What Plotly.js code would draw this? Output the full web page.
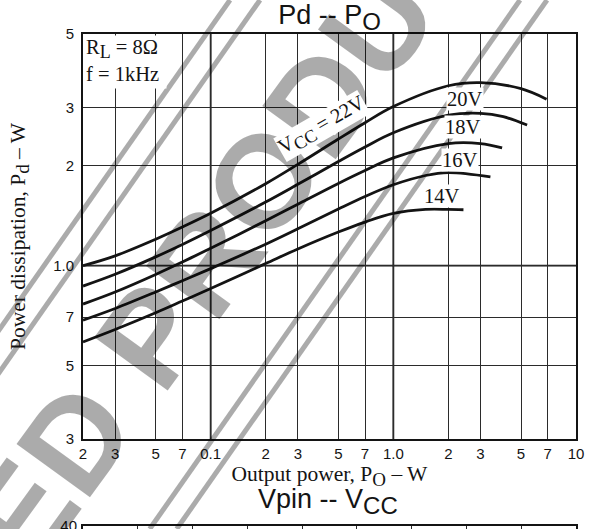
<!DOCTYPE html>
<html>
<head>
<meta charset="utf-8">
<script src="https://cdn.plot.ly/plotly-3.0.1.min.js"></script>
<style>
  html, body { margin: 0; padding: 0; background: #fff; overflow: hidden; }
  #chart { width: 597px; height: 529px; }
</style>
</head>
<body>
<div id="chart"></div>
<script>
// Pd - PO characteristics, RL = 8 ohm, f = 1 kHz
const vcc22Po = [0.02, 0.03, 0.05, 0.07, 0.1, 0.2, 0.3, 0.5, 0.7, 1.0, 2, 3, 5, 6.9];
const vcc22Pd = [1.0, 1.071, 1.202, 1.308, 1.439, 1.767, 2.021, 2.41, 2.70, 3.02, 3.49, 3.567, 3.42, 3.18];

const vcc20Po = [0.02, 0.03, 0.05, 0.07, 0.1, 0.2, 0.3, 0.5, 0.7, 1.0, 2, 3, 4, 5.4];
const vcc20Pd = [0.868, 0.942, 1.063, 1.159, 1.277, 1.556, 1.76, 2.061, 2.28, 2.517, 2.844, 2.882, 2.815, 2.657];

const vcc18Po = [0.02, 0.03, 0.05, 0.07, 0.1, 0.2, 0.3, 0.5, 0.7, 1.0, 2, 3, 3.94];
const vcc18Pd = [0.766, 0.833, 0.941, 1.026, 1.129, 1.366, 1.533, 1.771, 1.937, 2.114, 2.335, 2.335, 2.266];

const vcc16Po = [0.02, 0.03, 0.05, 0.07, 0.1, 0.2, 0.3, 0.5, 0.7, 1.0, 1.5, 2, 3.4];
const vcc16Pd = [0.685, 0.743, 0.833, 0.901, 0.98, 1.161, 1.292, 1.482, 1.617, 1.754, 1.871, 1.909, 1.854];

const vcc14Po = [0.02, 0.03, 0.05, 0.07, 0.1, 0.2, 0.3, 0.5, 0.7, 1.0, 1.5, 2, 2.42];
const vcc14Pd = [0.589, 0.642, 0.721, 0.782, 0.853, 1.015, 1.123, 1.263, 1.354, 1.437, 1.478, 1.478, 1.475];

// axis ticks
const poTickVals = [0.02, 0.03, 0.05, 0.07, 0.1, 0.2, 0.3, 0.5, 0.7, 1, 2, 3, 5, 7, 10];
const poTickText = ['2', '3', '5', '7', '0.1', '2', '3', '5', '7', '1.0', '2', '3', '5', '7', '10'];
const pdTickVals = [0.3, 0.5, 0.7, 1, 2, 3, 5];
const pdTickText = ['3', '5', '7', '1.0', '2', '3', '5'];

// Vpin - VCC panel (only its top edge falls inside the page)
const vpinTickVals = [40];
const vpinTickText = ['40'];

// page geometry helpers (pixels -> paper fractions)
const W = 597, H = 529;
const M = { l: 83, r: 21, t: 34, b: 0 };
const PW = W - M.l - M.r, PH = H - M.t - M.b;
const px = v => (v - M.l) / PW;
const py = v => (H - v) / PH;

const INK = '#141414';
const SANS = 'Liberation Sans, Arial, sans-serif';
const SERIF = 'Liberation Serif, Times New Roman, serif';
const sub = (t, size) => '<sub><span style="font-size:' + size + 'px">' + t + '</span></sub>';

function curve(x, y) {
  return {
    type: 'scatter', mode: 'lines', x: x, y: y,
    line: { color: INK, width: 2.8, shape: 'spline', smoothing: 1 },
    hoverinfo: 'skip', showlegend: false, xaxis: 'x', yaxis: 'y'
  };
}

const traces = [
  curve(vcc22Po, vcc22Pd),
  curve(vcc20Po, vcc20Pd),
  curve(vcc18Po, vcc18Pd),
  curve(vcc16Po, vcc16Pd),
  curve(vcc14Po, vcc14Pd),
  // placeholder so the Vpin - VCC frame is laid out
  { type: 'scatter', mode: 'lines', x: [], y: [], xaxis: 'x2', yaxis: 'y2', hoverinfo: 'skip', showlegend: false }
];

// "discontinued" stamp: diagonal stripes
const WM = 'rgba(0,0,0,0.33)';
const stripeSlope = -0.70;
const stripes = [230, 260, 520, 547].map(x0 => ({
  type: 'line', xref: 'paper', yref: 'paper', layer: 'above',
  x0: px(x0), y0: py(0), x1: px(x0 + stripeSlope * H), y1: py(H),
  line: { color: WM, width: 5 }
}));

// heavier decade lines
const decadeLines = [
  { type: 'line', xref: 'x', yref: 'y domain', x0: 0.1, x1: 0.1, y0: 0, y1: 1, layer: 'below', line: { color: INK, width: 1.8 } },
  { type: 'line', xref: 'x', yref: 'y domain', x0: 1, x1: 1, y0: 0, y1: 1, layer: 'below', line: { color: INK, width: 1.8 } },
  { type: 'line', xref: 'x domain', yref: 'y', x0: 0, x1: 1, y0: 1, y1: 1, layer: 'below', line: { color: INK, width: 1.8 } }
];

function label(text, x, y, angle) {
  return {
    text: text, xref: 'paper', yref: 'paper', x: px(x), y: py(y),
    xanchor: 'center', yanchor: 'middle', showarrow: false,
    textangle: angle || 0, bgcolor: '#fff', borderpad: 0,
    font: { family: SERIF, size: 20.5, color: INK }
  };
}

const annotations = [
  {
    text: 'DISCONTINUED PRODUCT', xref: 'paper', yref: 'paper',
    x: px(11), y: py(528), xanchor: 'center', yanchor: 'middle',
    showarrow: false, textangle: -54,
    font: { family: SANS, size: 132, color: WM, weight: 'bold' }
  },
  {
    text: 'R' + sub('L', 18) + ' = 8Ω<br>f = 1kHz', xref: 'paper', yref: 'paper',
    x: px(85), y: py(35), xanchor: 'left', yanchor: 'top', align: 'left', valign: 'top',
    width: 80, height: 52, showarrow: false, bgcolor: '#fff', borderpad: 0,
    font: { family: SERIF, size: 20.5, color: INK }
  },
  label('V' + sub('CC', 18) + ' = 22V', 322, 126, -30),
  label('20V', 465, 99),
  label('18V', 463, 127),
  label('16V', 460, 160),
  label('14V', 442, 196),
  {
    text: 'Vpin -- V' + sub('CC', 24), xref: 'paper', yref: 'paper',
    x: px(328), y: py(501), xanchor: 'center', yanchor: 'middle', showarrow: false,
    font: { family: SANS, size: 27, color: INK }
  }
];

const gridAxis = {
  showgrid: true, gridcolor: '#2b2b2b', gridwidth: 1,
  showline: true, mirror: true, linecolor: INK, linewidth: 2,
  zeroline: false, ticks: '', automargin: false, fixedrange: true
};

const layout = {
  width: W, height: H,
  margin: M,
  paper_bgcolor: '#fff', plot_bgcolor: '#fff',
  showlegend: false,
  title: {
    text: 'Pd -- P' + sub('O', 24),
    font: { family: SANS, size: 27, color: INK },
    xref: 'paper', x: 0.5, xanchor: 'center',
    yref: 'container', y: 1 - 15 / H, yanchor: 'middle'
  },
  xaxis: Object.assign({}, gridAxis, {
    type: 'log', domain: [0, 1], anchor: 'y',
    range: [Math.log10(0.02), Math.log10(10)],
    tickmode: 'array', tickvals: poTickVals, ticktext: poTickText,
    tickfont: { family: SANS, size: 15, color: INK },
    ticklabelstandoff: 0,
    title: { text: 'Output power, P' + sub('O', 19) + ' – W', font: { family: SERIF, size: 21.5, color: INK }, standoff: 0 }
  }),
  yaxis: Object.assign({}, gridAxis, {
    type: 'log', domain: [py(439), 1], anchor: 'x',
    range: [Math.log10(0.3), Math.log10(5)],
    tickmode: 'array', tickvals: pdTickVals, ticktext: pdTickText,
    tickfont: { family: SANS, size: 15, color: INK },
    ticklabelstandoff: 4,
    title: { text: 'Power dissipation, P' + sub('d', 19) + ' – W', font: { family: SERIF, size: 21.5, color: INK }, standoff: 22 }
  }),
  xaxis2: Object.assign({}, gridAxis, {
    domain: [0, 1], anchor: 'y2', side: 'top', mirror: false,
    range: [0, 9], dtick: 1, tickmode: 'linear', tick0: 0, showticklabels: false
  }),
  yaxis2: Object.assign({}, gridAxis, {
    domain: [0, py(526)], anchor: 'x2', showgrid: false,
    range: [39.7, 40.001], tickmode: 'array', tickvals: vpinTickVals, ticktext: vpinTickText,
    tickfont: { family: SANS, size: 15, color: INK }, ticklabelstandoff: 1,
    ticklabeloverflow: 'allow'
  }),
  shapes: decadeLines.concat(stripes),
  annotations: annotations
};

Plotly.newPlot('chart', traces, layout, { staticPlot: true, displayModeBar: false });
</script>
</body>
</html>
